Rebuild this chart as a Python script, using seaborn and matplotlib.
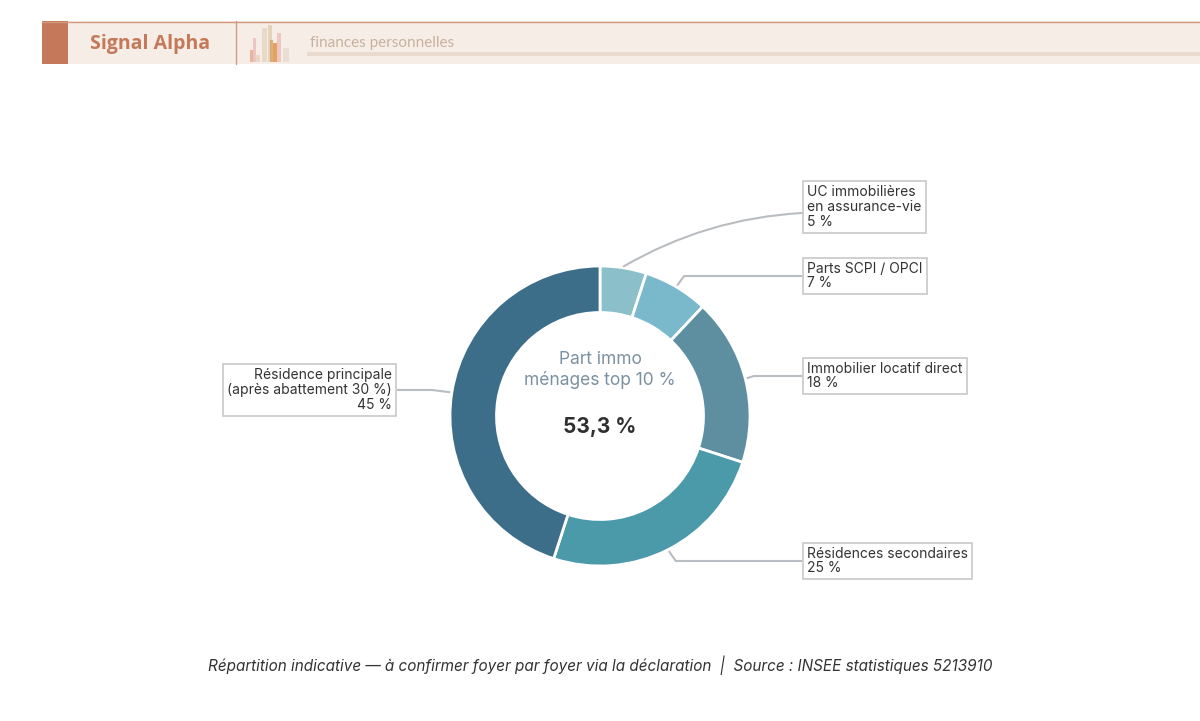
import numpy as np
import matplotlib
matplotlib.use("Agg")
import matplotlib.pyplot as plt
from matplotlib.patches import Rectangle
import seaborn as sns

# ---- data ----
categories = ["UC immobilières\nen assurance-vie", "Parts SCPI / OPCI",
              "Immobilier locatif direct", "Résidences secondaires",
              "Résidence principale\n(après abattement 30 %)"]
values = [5, 7, 18, 25, 45]
center_title = "Part immo\nménages top 10 %"
center_value = "53,3 %"
footer = "Répartition indicative — à confirmer foyer par foyer via la déclaration  |  Source : INSEE statistiques 5213910"
brand = "Signal Alpha"
section = "finances personnelles"

colors = ["#8bbfca", "#7ab9cc", "#5e8fa1", "#4a9aaa", "#3c6d89"]

sns.set_theme(style="white")
plt.rcParams['font.family'] = ['Inter', 'DejaVu Sans']

W, H = 1200, 721
fig = plt.figure(figsize=(W / 100, H / 100), dpi=100)
fig.patch.set_facecolor("white")

def fx(px):
    return px / W

def fy(py):
    return 1 - py / H

# ---- header ----
fig.patches.append(Rectangle((fx(42), fy(64)), fx(1200 - 42), (64 - 21) / H,
                             transform=fig.transFigure, facecolor="#f7ede7", edgecolor="none", zorder=0))
fig.lines.append(plt.Line2D([fx(42), fx(1200)], [fy(21.5), fy(21.5)], transform=fig.transFigure,
                            color="#d19a80", lw=1.0))
fig.patches.append(Rectangle((fx(42), fy(64)), fx(26), (64 - 21) / H,
                             transform=fig.transFigure, facecolor="#c47a5a", edgecolor="none"))
fig.lines.append(plt.Line2D([fx(236), fx(236)], [fy(21), fy(64)], transform=fig.transFigure,
                            color="#d19a80", lw=1.0))
fig.text(fx(90), fy(43.5), brand, fontsize=14, fontweight="bold", color="#c47a5a",
         ha="left", va="center", family=["Open Sans", "DejaVu Sans"])
# decorative icon
icon = [(250, 3.5, 50, "#e9b08e"), (253, 3, 38, "#ecc1c1"), (262, 5, 28, "#e6d8c4"),
        (268, 4, 25, "#e2cfb4"), (273, 4, 43, "#e39a4e"), (277, 3.5, 33, "#eec3c0"),
        (283, 6, 48, "#e8ddd0"), (256, 4, 55, "#e8d6c2"), (270, 3, 40, "#d8a878")]
for x0, w0, top, c in icon:
    fig.patches.append(Rectangle((fx(x0), fy(62)), fx(w0), (62 - top) / H,
                                 transform=fig.transFigure, facecolor=c, edgecolor="none", alpha=0.9))
fig.text(fx(310), fy(43), section, fontsize=11, color="#c8b29e", ha="left", va="center",
         family=["Lato", "DejaVu Sans"])
fig.patches.append(Rectangle((fx(307), fy(56)), fx(1200 - 307), 4 / H,
                             transform=fig.transFigure, facecolor="#e9dacd", edgecolor="none"))

# ---- donut ----
cx, cy, R = 600, 416, 150
ax = fig.add_axes([fx(cx - R), fy(cy + R), 2 * R / W, 2 * R / H])

wedges, _ = ax.pie(values, colors=colors, startangle=90, counterclock=False, radius=1.0,
                   wedgeprops=dict(width=0.31, edgecolor="white", linewidth=2))
ax.set_xlim(-1, 1)
ax.set_ylim(-1, 1)
ax.set_aspect("equal")
ax.axis("off")

ax.text(0, (cy - 370) / R, center_title, ha="center", va="center", fontsize=12.5,
        color="#7b91a1", linespacing=1.2)
ax.text(0, (cy - 427) / R, center_value, ha="center", va="center", fontsize=15,
        fontweight="bold", color="#2f2f2f")

# ---- labels ----
label_y_px = [207, 276, 376, 561, 390]
lab_texts = [f"{c}\n{v} %" for c, v in zip(categories, values)]
line_c = "#b9bdc1"
box = dict(boxstyle="square,pad=0.3", facecolor="white", edgecolor="#c8c8c8", linewidth=1.2)

cum = np.cumsum([0] + values)
tot = sum(values)
for i, (txt, ly) in enumerate(zip(lab_texts, label_y_px)):
    mid = (cum[i] + cum[i + 1]) / 2 / tot * 360
    ang = np.deg2rad(mid)
    ax_, ay_ = 1.01 * np.sin(ang), 1.01 * np.cos(ang)
    ty = (cy - ly) / R
    right = np.sin(ang) > 0
    if right:
        tx_text = (807 - cx) / R
        edge = (802 - cx) / R
        ha = "left"
    else:
        tx_text = (392 - cx) / R
        edge = (397 - cx) / R
        ha = "right"
    if i == 0:
        ax.annotate("", xy=(ax_, ay_), xytext=(edge, (cy - 213) / R),
                    arrowprops=dict(arrowstyle="-", color=line_c, lw=1.5,
                                    connectionstyle="arc3,rad=0.12", shrinkA=0, shrinkB=0),
                    annotation_clip=False)
    else:
        ex = ax_ + (7 / R if right else -18 / R)
        ax.plot([ax_, ex, edge], [ay_, ty, ty], color=line_c, lw=1.5, clip_on=False,
                solid_capstyle="butt")
    ax.text(tx_text, ty, txt, ha=ha, va="center", fontsize=10, color="#333333",
            multialignment=ha, linespacing=1.05, bbox=box, clip_on=False)

# ---- footer ----
fig.text(0.5, fy(665), footer, ha="center", va="center", fontsize=11, style="italic",
         color="#333333")

fig.savefig("out.png", dpi=100, facecolor="white")
